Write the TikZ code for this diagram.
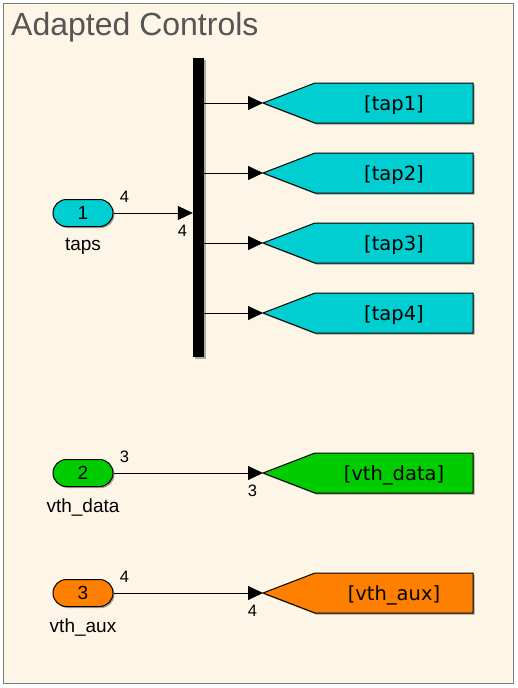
\documentclass[tikz,border=0pt]{standalone}
\usepackage{fontspec}
\setmainfont{Liberation Sans}
\newfontfamily\dvsans{DejaVu Sans}
\usetikzlibrary{shapes.misc,arrows.meta,shadows}
\definecolor{bgcream}{RGB}{253,245,230}
\definecolor{framegray}{RGB}{125,125,125}
\definecolor{tapcyan}{RGB}{0,206,209}
\definecolor{datagreen}{RGB}{0,204,0}
\definecolor{auxorange}{RGB}{255,128,0}
\definecolor{titlegray}{RGB}{85,85,85}
\begin{document}
\begin{tikzpicture}[x=1pt,y=-1pt,
  shad/.style={drop shadow={shadow xshift=1.5pt,shadow yshift=-1.5pt,opacity=0.35,fill=black}},
  pill/.style={rounded rectangle, draw=black, line width=1pt, minimum width=60pt, minimum height=27pt, inner sep=0pt, font=\fontsize{19}{19}\selectfont, shad},
  blabel/.style={inner sep=0pt, font=\fontsize{19}{19}\selectfont},
  wlabel/.style={inner sep=0pt, font=\fontsize{16.5}{16.5}\selectfont},
  gotoshape/.style={draw=black, line width=1pt, shad},
  gototext/.style={inner sep=0pt, font=\dvsans\fontsize{19.5}{19.5}\selectfont},
  wire/.style={line width=0.8pt, -{Triangle[length=15pt,width=14pt]}},
  plain/.style={line width=0.8pt}]
\useasboundingbox (0,0) rectangle (518,688);
\fill[white] (0,0) rectangle (518,688);
\draw[framegray, fill=bgcream, line width=1.2pt] (3.5,3.5) rectangle (513.5,683.5);
\node[anchor=base west, inner sep=0pt, text=titlegray, font=\fontsize{32}{32}\selectfont] (title) at (11,35) {Adapted Controls};

% bus bar
\node[fill=black, minimum width=11pt, minimum height=299pt, inner sep=0pt, drop shadow={shadow xshift=1.5pt,shadow yshift=-1.5pt,opacity=0.3,fill=black}] (bar) at (198.5,207.5) {};

% inport 1
\node[pill, fill=tapcyan] (in1) at (83,213) {1};
\node[blabel] (in1lbl) at (83,246) {taps};
\draw[wire] (in1.east) -- (in1.east -| bar.west);
\node[wlabel] (l1a) at (124.5,197) {4};
\node[wlabel] (l1b) at (182.5,231) {4};

% tap gotos
\foreach \i/\y in {1/103,2/173,3/243,4/313}{
  \coordinate (g\i) at (263,\y);
  \filldraw[gotoshape, fill=tapcyan] (g\i) -- (315,\y-20) -- (473,\y-20) -- (473,\y+20) -- (315,\y+20) -- cycle;
  \node[gototext] (gt\i) at (394,\y+2) {[tap\i]};
  \draw[wire] (bar.east |- g\i) -- (g\i);
}

% inport 2
\node[pill, fill=datagreen] (in2) at (83,473) {2};
\node[blabel] (in2lbl) at (83,507) {vth\_data};
\coordinate (g5) at (263,473);
\filldraw[gotoshape, fill=datagreen] (g5) -- (315,453) -- (473,453) -- (473,493) -- (315,493) -- cycle;
\node[gototext] (gt5) at (394,475) {[vth\_data]};
\draw[wire] (in2.east) -- (g5);
\node[wlabel] (l2a) at (124.5,457) {3};
\node[wlabel] (l2b) at (252.5,491) {3};

% inport 3
\node[pill, fill=auxorange] (in3) at (83,593) {3};
\node[blabel] (in3lbl) at (83,627) {vth\_aux};
\coordinate (g6) at (263,593);
\filldraw[gotoshape, fill=auxorange] (g6) -- (315,573) -- (473,573) -- (473,613) -- (315,613) -- cycle;
\node[gototext] (gt6) at (394,595) {[vth\_aux]};
\draw[wire] (in3.east) -- (g6);
\node[wlabel] (l3a) at (124.5,577) {4};
\node[wlabel] (l3b) at (252.5,611) {4};
\end{tikzpicture}
\end{document}
